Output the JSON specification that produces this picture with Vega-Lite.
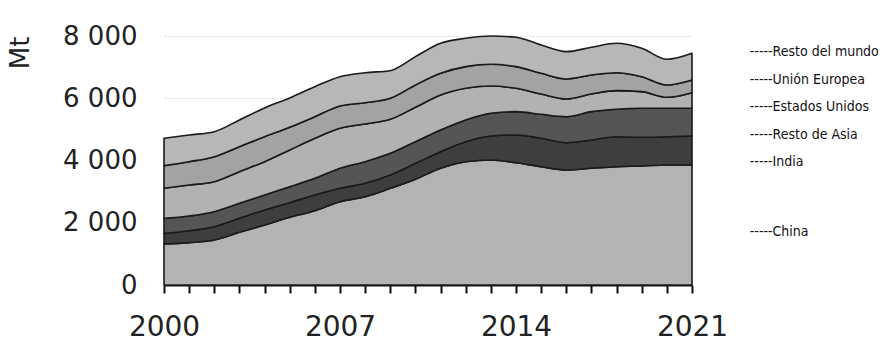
{
  "$schema": "https://vega.github.io/schema/vega-lite/v6.json",
  "width": 528,
  "height": 249,
  "autosize": "none",
  "padding": {"left": 164, "top": 36, "right": 203, "bottom": 76},
  "background": "white",
  "config": {"view": {"stroke": null}, "font": "DejaVu Sans"},
  "datasets": {
    "coal": [
      {"year": 2000, "region": "China", "k": 1, "value": 1317},
      {"year": 2001, "region": "China", "k": 1, "value": 1360},
      {"year": 2002, "region": "China", "k": 1, "value": 1446},
      {"year": 2003, "region": "China", "k": 1, "value": 1693},
      {"year": 2004, "region": "China", "k": 1, "value": 1928},
      {"year": 2005, "region": "China", "k": 1, "value": 2175},
      {"year": 2006, "region": "China", "k": 1, "value": 2387},
      {"year": 2007, "region": "China", "k": 1, "value": 2677},
      {"year": 2008, "region": "China", "k": 1, "value": 2837},
      {"year": 2009, "region": "China", "k": 1, "value": 3107},
      {"year": 2010, "region": "China", "k": 1, "value": 3396},
      {"year": 2011, "region": "China", "k": 1, "value": 3749},
      {"year": 2012, "region": "China", "k": 1, "value": 3962},
      {"year": 2013, "region": "China", "k": 1, "value": 4016},
      {"year": 2014, "region": "China", "k": 1, "value": 3930},
      {"year": 2015, "region": "China", "k": 1, "value": 3801},
      {"year": 2016, "region": "China", "k": 1, "value": 3695},
      {"year": 2017, "region": "China", "k": 1, "value": 3749},
      {"year": 2018, "region": "China", "k": 1, "value": 3801},
      {"year": 2019, "region": "China", "k": 1, "value": 3823},
      {"year": 2020, "region": "China", "k": 1, "value": 3855},
      {"year": 2021, "region": "China", "k": 1, "value": 3855},
      {"year": 2000, "region": "India", "k": 2, "value": 343},
      {"year": 2001, "region": "India", "k": 2, "value": 385},
      {"year": 2002, "region": "India", "k": 2, "value": 427},
      {"year": 2003, "region": "India", "k": 2, "value": 449},
      {"year": 2004, "region": "India", "k": 2, "value": 482},
      {"year": 2005, "region": "India", "k": 2, "value": 470},
      {"year": 2006, "region": "India", "k": 2, "value": 505},
      {"year": 2007, "region": "India", "k": 2, "value": 430},
      {"year": 2008, "region": "India", "k": 2, "value": 431},
      {"year": 2009, "region": "India", "k": 2, "value": 427},
      {"year": 2010, "region": "India", "k": 2, "value": 514},
      {"year": 2011, "region": "India", "k": 2, "value": 534},
      {"year": 2012, "region": "India", "k": 2, "value": 642},
      {"year": 2013, "region": "India", "k": 2, "value": 771},
      {"year": 2014, "region": "India", "k": 2, "value": 890},
      {"year": 2015, "region": "India", "k": 2, "value": 912},
      {"year": 2016, "region": "India", "k": 2, "value": 877},
      {"year": 2017, "region": "India", "k": 2, "value": 910},
      {"year": 2018, "region": "India", "k": 2, "value": 964},
      {"year": 2019, "region": "India", "k": 2, "value": 922},
      {"year": 2020, "region": "India", "k": 2, "value": 910},
      {"year": 2021, "region": "India", "k": 2, "value": 932},
      {"year": 2000, "region": "Resto de Asia", "k": 3, "value": 482},
      {"year": 2001, "region": "Resto de Asia", "k": 3, "value": 472},
      {"year": 2002, "region": "Resto de Asia", "k": 3, "value": 482},
      {"year": 2003, "region": "Resto de Asia", "k": 3, "value": 482},
      {"year": 2004, "region": "Resto de Asia", "k": 3, "value": 482},
      {"year": 2005, "region": "Resto de Asia", "k": 3, "value": 513},
      {"year": 2006, "region": "Resto de Asia", "k": 3, "value": 536},
      {"year": 2007, "region": "Resto de Asia", "k": 3, "value": 642},
      {"year": 2008, "region": "Resto de Asia", "k": 3, "value": 694},
      {"year": 2009, "region": "Resto de Asia", "k": 3, "value": 697},
      {"year": 2010, "region": "Resto de Asia", "k": 3, "value": 694},
      {"year": 2011, "region": "Resto de Asia", "k": 3, "value": 697},
      {"year": 2012, "region": "Resto de Asia", "k": 3, "value": 697},
      {"year": 2013, "region": "Resto de Asia", "k": 3, "value": 729},
      {"year": 2014, "region": "Resto de Asia", "k": 3, "value": 749},
      {"year": 2015, "region": "Resto de Asia", "k": 3, "value": 771},
      {"year": 2016, "region": "Resto de Asia", "k": 3, "value": 836},
      {"year": 2017, "region": "Resto de Asia", "k": 3, "value": 910},
      {"year": 2018, "region": "Resto de Asia", "k": 3, "value": 880},
      {"year": 2019, "region": "Resto de Asia", "k": 3, "value": 932},
      {"year": 2020, "region": "Resto de Asia", "k": 3, "value": 912},
      {"year": 2021, "region": "Resto de Asia", "k": 3, "value": 890},
      {"year": 2000, "region": "Estados Unidos", "k": 4, "value": 965},
      {"year": 2001, "region": "Estados Unidos", "k": 4, "value": 996},
      {"year": 2002, "region": "Estados Unidos", "k": 4, "value": 964},
      {"year": 2003, "region": "Estados Unidos", "k": 4, "value": 1016},
      {"year": 2004, "region": "Estados Unidos", "k": 4, "value": 1070},
      {"year": 2005, "region": "Estados Unidos", "k": 4, "value": 1180},
      {"year": 2006, "region": "Estados Unidos", "k": 4, "value": 1285},
      {"year": 2007, "region": "Estados Unidos", "k": 4, "value": 1285},
      {"year": 2008, "region": "Estados Unidos", "k": 4, "value": 1211},
      {"year": 2009, "region": "Estados Unidos", "k": 4, "value": 1093},
      {"year": 2010, "region": "Estados Unidos", "k": 4, "value": 1105},
      {"year": 2011, "region": "Estados Unidos", "k": 4, "value": 1125},
      {"year": 2012, "region": "Estados Unidos", "k": 4, "value": 1018},
      {"year": 2013, "region": "Estados Unidos", "k": 4, "value": 878},
      {"year": 2014, "region": "Estados Unidos", "k": 4, "value": 750},
      {"year": 2015, "region": "Estados Unidos", "k": 4, "value": 653},
      {"year": 2016, "region": "Estados Unidos", "k": 4, "value": 568},
      {"year": 2017, "region": "Estados Unidos", "k": 4, "value": 568},
      {"year": 2018, "region": "Estados Unidos", "k": 4, "value": 599},
      {"year": 2019, "region": "Estados Unidos", "k": 4, "value": 535},
      {"year": 2020, "region": "Estados Unidos", "k": 4, "value": 353},
      {"year": 2021, "region": "Estados Unidos", "k": 4, "value": 503},
      {"year": 2000, "region": "Unión Europea", "k": 5, "value": 727},
      {"year": 2001, "region": "Unión Europea", "k": 5, "value": 749},
      {"year": 2002, "region": "Unión Europea", "k": 5, "value": 804},
      {"year": 2003, "region": "Unión Europea", "k": 5, "value": 804},
      {"year": 2004, "region": "Unión Europea", "k": 5, "value": 803},
      {"year": 2005, "region": "Unión Europea", "k": 5, "value": 728},
      {"year": 2006, "region": "Unión Europea", "k": 5, "value": 695},
      {"year": 2007, "region": "Unión Europea", "k": 5, "value": 717},
      {"year": 2008, "region": "Unión Europea", "k": 5, "value": 685},
      {"year": 2009, "region": "Unión Europea", "k": 5, "value": 674},
      {"year": 2010, "region": "Unión Europea", "k": 5, "value": 717},
      {"year": 2011, "region": "Unión Europea", "k": 5, "value": 696},
      {"year": 2012, "region": "Unión Europea", "k": 5, "value": 696},
      {"year": 2013, "region": "Unión Europea", "k": 5, "value": 696},
      {"year": 2014, "region": "Unión Europea", "k": 5, "value": 696},
      {"year": 2015, "region": "Unión Europea", "k": 5, "value": 664},
      {"year": 2016, "region": "Unión Europea", "k": 5, "value": 643},
      {"year": 2017, "region": "Unión Europea", "k": 5, "value": 610},
      {"year": 2018, "region": "Unión Europea", "k": 5, "value": 577},
      {"year": 2019, "region": "Unión Europea", "k": 5, "value": 481},
      {"year": 2020, "region": "Unión Europea", "k": 5, "value": 396},
      {"year": 2021, "region": "Unión Europea", "k": 5, "value": 407},
      {"year": 2000, "region": "Resto del mundo", "k": 6, "value": 879},
      {"year": 2001, "region": "Resto del mundo", "k": 6, "value": 858},
      {"year": 2002, "region": "Resto del mundo", "k": 6, "value": 803},
      {"year": 2003, "region": "Resto del mundo", "k": 6, "value": 856},
      {"year": 2004, "region": "Resto del mundo", "k": 6, "value": 922},
      {"year": 2005, "region": "Resto del mundo", "k": 6, "value": 942},
      {"year": 2006, "region": "Resto del mundo", "k": 6, "value": 964},
      {"year": 2007, "region": "Resto del mundo", "k": 6, "value": 942},
      {"year": 2008, "region": "Resto del mundo", "k": 6, "value": 963},
      {"year": 2009, "region": "Resto del mundo", "k": 6, "value": 888},
      {"year": 2010, "region": "Resto del mundo", "k": 6, "value": 910},
      {"year": 2011, "region": "Resto del mundo", "k": 6, "value": 964},
      {"year": 2012, "region": "Resto del mundo", "k": 6, "value": 911},
      {"year": 2013, "region": "Resto del mundo", "k": 6, "value": 910},
      {"year": 2014, "region": "Resto del mundo", "k": 6, "value": 943},
      {"year": 2015, "region": "Resto del mundo", "k": 6, "value": 910},
      {"year": 2016, "region": "Resto del mundo", "k": 6, "value": 878},
      {"year": 2017, "region": "Resto del mundo", "k": 6, "value": 890},
      {"year": 2018, "region": "Resto del mundo", "k": 6, "value": 944},
      {"year": 2019, "region": "Resto del mundo", "k": 6, "value": 912},
      {"year": 2020, "region": "Resto del mundo", "k": 6, "value": 825},
      {"year": 2021, "region": "Resto del mundo", "k": 6, "value": 857}
    ],
    "labels": [
      {"label": "-----Resto del mundo", "year": 2023.3, "value": 7486},
      {"label": "-----Unión Europea", "year": 2023.3, "value": 6587},
      {"label": "-----Estados Unidos", "year": 2023.3, "value": 5719},
      {"label": "-----Resto de Asia", "year": 2023.3, "value": 4820},
      {"label": "-----India", "year": 2023.3, "value": 3952},
      {"label": "-----China", "year": 2023.3, "value": 1703}
    ]
  },
  "encoding": {
    "x": {
      "field": "year", "type": "quantitative",
      "scale": {"domain": [2000, 2021], "nice": false, "zero": false},
      "axis": {
        "title": null,
        "values": [2000, 2001, 2002, 2003, 2004, 2005, 2006, 2007, 2008, 2009, 2010, 2011, 2012, 2013, 2014, 2015, 2016, 2017, 2018, 2019, 2020, 2021],
        "labelExpr": "(datum.value - 2000) % 7 == 0 ? '' + datum.value : ''",
        "grid": false,
        "domainColor": "#111", "domainWidth": 2,
        "tickColor": "#111", "tickWidth": 2, "tickSize": 8,
        "labelFontSize": 28, "labelColor": "#222", "labelPadding": 20,
        "labelFont": "DejaVu Sans", "labelOverlap": false, "labelFlush": false
      }
    },
    "y": {
      "field": "value", "type": "quantitative",
      "scale": {"domain": [0, 8000], "nice": false},
      "axis": {
        "title": "Mt",
        "titleFontSize": 26, "titleFontWeight": "normal", "titleColor": "#222",
        "titleAnchor": "end", "titlePadding": 29, "titleFont": "DejaVu Sans",
        "values": [0, 2000, 4000, 6000, 8000],
        "labelExpr": "replace(format(datum.value, ','), ',', ' ')",
        "domain": false, "ticks": false,
        "labelFontSize": 26, "labelColor": "#222", "labelPadding": 27,
        "labelFont": "DejaVu Sans", "labelFlush": false,
        "grid": true, "gridColor": "#d6d6d6", "gridDash": [2, 2], "gridWidth": 1
      }
    }
  },
  "layer": [
    {
      "data": {"name": "coal"},
      "mark": {"type": "area", "interpolate": "monotone", "stroke": "#1a1a1a", "strokeWidth": 1.6, "strokeJoin": "round"},
      "encoding": {
        "y": {
          "field": "value", "type": "quantitative", "stack": "zero"
        },
        "color": {
          "field": "region", "type": "nominal", "legend": null,
          "scale": {
            "domain": ["China", "India", "Resto de Asia", "Estados Unidos", "Unión Europea", "Resto del mundo"],
            "range": ["#b3b3b3", "#3e3e3e", "#555555", "#b2b2b2", "#a3a3a3", "#b7b7b7"]
          }
        },
        "order": {"field": "k", "type": "quantitative"}
      }
    },
    {
      "data": {"name": "labels"},
      "mark": {"type": "text", "align": "left", "baseline": "middle", "fontSize": 14, "font": "Liberation Sans Narrow, DejaVu Sans Condensed, sans-serif", "color": "#111", "clip": false},
      "encoding": {
        "y": {"field": "value", "type": "quantitative", "stack": null},
        "text": {"field": "label"}
      }
    }
  ]
}
